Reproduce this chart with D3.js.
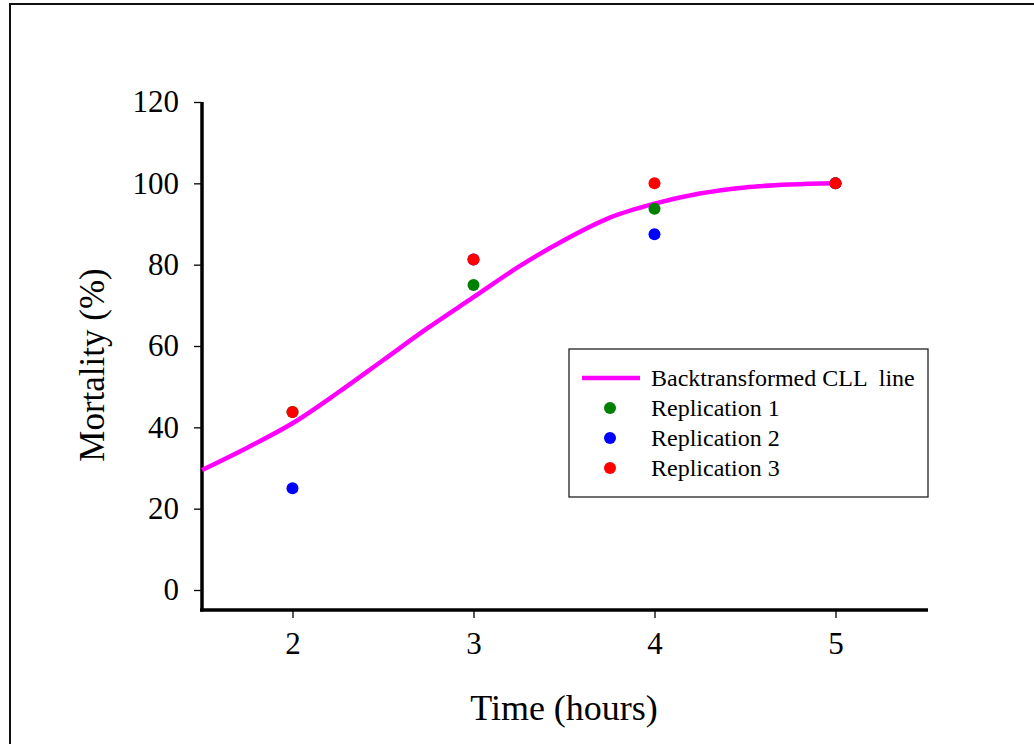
<!DOCTYPE html>
<html>
<head>
<meta charset="utf-8">
<script src="https://cdn.jsdelivr.net/npm/d3@7"></script>
<style>
  html, body { margin: 0; padding: 0; background: #fff; }
  svg { display: block; }
  text { font-family: "Liberation Serif", "Times New Roman", serif; fill: #000; white-space: pre; }
</style>
</head>
<body>
<svg id="chart" width="1034" height="744"></svg>
<script>
// Fitted backtransformed CLL curve, sampled along time (hours)
const curveTime = [1.5, 1.75, 2, 2.25, 2.5, 2.75, 3, 3.25, 3.5, 3.75, 4, 4.25, 4.5, 4.75, 5];
const curveMortality = [29.5, 35, 41, 48.5, 56.5, 64.5, 72, 79.5, 86, 91.5, 95, 97.5, 99, 99.7, 100];

// Observed mortality (%) per replication
const obsTime = [2, 3, 4, 5];
const rep1 = [43.75, 75, 93.75, 100];
const rep2 = [25, 81.25, 87.5, 100];
const rep3 = [43.75, 81.25, 100, 100];

const seriesNames = ["Replication 1", "Replication 2", "Replication 3"];
const seriesColors = ["#008000", "#0000ff", "#ff0000"];
const lineName = "Backtransformed CLL  line";

const xTicks = [2, 3, 4, 5];
const yTicks = [0, 20, 40, 60, 80, 100, 120];

const svg = d3.select("#chart");

// outer frame
svg.append("rect")
  .attr("x", 10).attr("y", 4)
  .attr("width", 1040).attr("height", 760)
  .attr("fill", "#fff").attr("stroke", "#111").attr("stroke-width", 2);

const x = d3.scaleLinear().domain([1.5, 5.5]).range([202, 926]);
const y = d3.scaleLinear().domain([0, 120]).range([590, 102]);
const yBottom = 610;

// y axis
const yAxis = svg.append("g").attr("transform", "translate(202,0)")
  .call(d3.axisLeft(y).tickValues(yTicks).tickFormat(d3.format("d"))
    .tickSize(8).tickPadding(15).tickSizeOuter(0));
yAxis.select(".domain").remove();
yAxis.append("line").attr("x1", 0).attr("x2", 0).attr("y1", y(120)).attr("y2", yBottom + 1.5)
  .attr("stroke", "#000").attr("stroke-width", 3.5);
yAxis.selectAll(".tick line").attr("stroke", "#000").attr("stroke-width", 1.3);
yAxis.selectAll(".tick text").style("font-size", "31px")
  .style("font-family", "'Liberation Serif', serif").attr("fill", "#000");

// x axis
const xAxis = svg.append("g").attr("transform", `translate(0,${yBottom})`)
  .call(d3.axisBottom(x).tickValues(xTicks).tickFormat(d3.format("d"))
    .tickSize(8).tickPadding(14).tickSizeOuter(0));
xAxis.select(".domain").remove();
xAxis.append("line").attr("x1", 200).attr("x2", x(5.5) + 2).attr("y1", 0).attr("y2", 0)
  .attr("stroke", "#000").attr("stroke-width", 3.5);
xAxis.selectAll(".tick line").attr("stroke", "#000").attr("stroke-width", 1.3);
xAxis.selectAll(".tick text").style("font-size", "31px")
  .style("font-family", "'Liberation Serif', serif").attr("fill", "#000");

// axis titles
svg.append("text")
  .attr("x", 564).attr("y", 720)
  .attr("text-anchor", "middle")
  .style("font-size", "36px")
  .text("Time (hours)");

svg.append("text")
  .attr("transform", "translate(104,365) rotate(-90)")
  .attr("text-anchor", "middle")
  .style("font-size", "35px")
  .text("Mortality (%)");

// fitted curve
const line = d3.line()
  .x((d, i) => x(curveTime[i]))
  .y(d => y(d))
  .curve(d3.curveMonotoneX);
svg.append("path")
  .datum(curveMortality)
  .attr("d", line)
  .attr("fill", "none")
  .attr("stroke", "#ff00ff")
  .attr("stroke-width", 4.5)
  .attr("stroke-linejoin", "round");

// observed points
[rep1, rep2, rep3].forEach((vals, s) => {
  svg.append("g").selectAll("circle")
    .data(vals)
    .join("circle")
    .attr("cx", (d, i) => x(obsTime[i]))
    .attr("cy", d => y(d))
    .attr("r", 6)
    .attr("fill", seriesColors[s]);
});

// legend
const lg = svg.append("g");
lg.append("rect")
  .attr("x", 569).attr("y", 349).attr("width", 359).attr("height", 148)
  .attr("fill", "#fff").attr("stroke", "#222").attr("stroke-width", 1.3);
lg.append("line")
  .attr("x1", 582).attr("x2", 640).attr("y1", 378).attr("y2", 378)
  .attr("stroke", "#ff00ff").attr("stroke-width", 4.5);
lg.append("text").attr("x", 651).attr("y", 378).attr("dy", "0.35em")
  .style("font-size", "24px").text(lineName);
seriesNames.forEach((name, i) => {
  const cy = 408 + i * 30;
  lg.append("circle").attr("cx", 610).attr("cy", cy).attr("r", 6).attr("fill", seriesColors[i]);
  lg.append("text").attr("x", 651).attr("y", cy).attr("dy", "0.35em")
    .style("font-size", "24px").text(name);
});
</script>
</body>
</html>
